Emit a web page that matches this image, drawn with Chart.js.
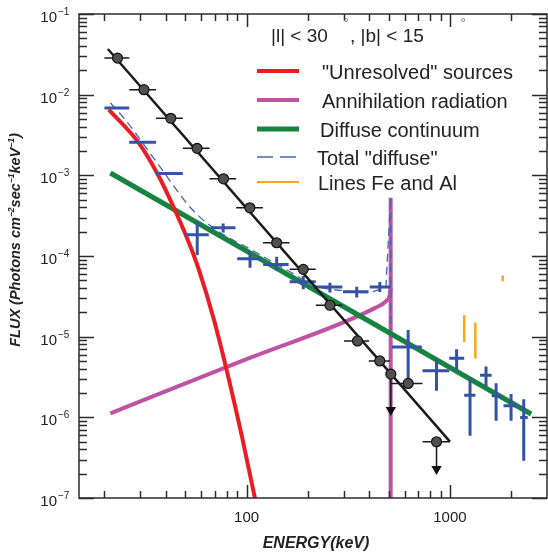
<!DOCTYPE html>
<html>
<head>
<meta charset="utf-8">
<script src="https://cdn.jsdelivr.net/npm/chart.js@4.4.1/dist/chart.umd.min.js"></script>
<style>
  html, body { margin: 0; padding: 0; background: #fff; }
</style>
</head>
<body>
<canvas id="myChart" width="548" height="554"></canvas>
<script>
  // ---- data (keV, photons cm-2 s-1 keV-1) ----

  // black points (total flux) with energy bins
  const blackE   = [23.2, 31.3, 42.4, 57.1, 77.0, 103.8, 140.5, 190, 257, 351, 452, 623];
  const blackF   = [0.0284, 0.01153, 0.00509, 0.00216, 9.05e-4, 3.96e-4, 1.46e-4, 6.83e-5, 2.45e-5, 8.85e-6, 5.0e-6, 2.63e-6];
  const blackElo = [20.0, 26.5, 35.9, 48.6, 65.7, 88.9, 120.3, 162.8, 218.8, 301.6, 399, 512];
  const blackEhi = [26.5, 35.9, 48.6, 65.7, 88.9, 120.3, 162.8, 218.8, 295.7, 400.4, 506, 733];

  // black upper limits (point, arrow tip)
  const limitE    = [512, 859];
  const limitF    = [3.43e-6, 4.98e-7];
  const limitElo  = [512, 733];
  const limitEhi  = [512, 1000];
  const limitTip  = [1.23e-6, 2.29e-7];

  // power law fit through black points
  const fitE = [20.8, 1000];
  const fitF = [0.0368, 5.0e-7];

  // blue crosses ("diffuse")
  const blueE   = [23, 30.8, 41.4, 57.2, 76.7, 104, 140.6, 190, 257, 348, 452, 623, 859, 1078, 1255, 1504, 1686, 1997, 2305];
  const blueF   = [6.85e-3, 2.57e-3, 1.05e-3, 1.84e-4, 2.24e-4, 9.27e-5, 7.87e-5, 4.81e-5, 4.12e-5, 3.61e-5, 4.12e-5, 7.46e-6, 3.77e-6, 5.41e-6, 1.88e-6, 3.33e-6, 1.85e-6, 1.39e-6, 9.98e-7];
  const blueFlo = [null, null, null, 1.02e-4, 1.96e-4, 7.16e-5, 6.68e-5, 3.86e-5, 3.52e-5, 3.05e-5, 3.57e-5, 3.03e-6, 2.13e-6, 3.76e-6, 5.9e-7, 2.41e-6, 9.06e-7, 9.06e-7, 2.9e-7];
  const blueFhi = [null, null, null, 2.66e-4, 2.53e-4, 1.15e-4, 9.8e-5, 5.64e-5, 4.67e-5, 4.17e-5, 4.75e-5, 1.21e-5, 5.25e-6, 6.98e-6, 3.12e-6, 4.27e-6, 2.65e-6, 1.94e-6, 1.68e-6];
  const blueElo = [20.0, 26.5, 35.9, 49.6, 66.5, 89.9, 120.7, 162.8, 218.8, 298, 403, 518, 733, 992, 1175, 1406, 1603, 1833, 2213];
  const blueEhi = [26.5, 35.9, 48.6, 65.2, 88.2, 119, 160.9, 218.8, 295.7, 398, 512, 728, 993, 1175, 1334, 1603, 1783, 2178, 2411];

  // model curves
  const unresE = [21.0, 29.5, 37.0, 44.7, 52.0, 58.2, 69.0, 81.8, 94.8, 109.9, 117.6];
  const unresF = [6.52e-3, 2.53e-3, 9.75e-4, 3.59e-4, 1.47e-4, 6.83e-5, 1.64e-5, 2.97e-6, 5.85e-7, 1.0e-7, 4.33e-8];

  const annE = [21.4, 100, 432, 484, 505, 511];
  const annF = [1.12e-6, 5.27e-6, 2.29e-5, 2.74e-5, 3.25e-5, 4.09e-5];
  const annLineE = [511, 511];
  const annLineF = [5.27e-4, 1e-8];

  const diffE = [21.4, 2506];
  const diffF = [1.07e-3, 1.1e-6];

  // total: smooth part, then the 511 keV spike
  const totalE = [21.4, 25.3, 36.3, 54, 70.4, 104.6, 156, 219, 307, 385, 484, 511, 511];
  const totalF = [7.89e-3, 4.9e-3, 1.43e-3, 3.77e-4, 2.13e-4, 1.21e-4, 6.83e-5, 4.25e-5, 3.68e-5, 3.51e-5, 4.05e-5, 5.27e-4, 1.2e-5];
  const totalSmooth = 11;

  // Fe and Al lines
  const lineE   = [1175, 1333, 1816];
  const lineFlo = [8.6e-6, 5.36e-6, 4.85e-5];
  const lineFhi = [1.84e-5, 1.49e-5, 5.75e-5];

  const xTickLabels = [100, 1000];
  const yDecades = [-7, -6, -5, -4, -3, -2, -1];

  const legendLabels = ['"Unresolved" sources', 'Annihilation radiation', 'Diffuse continuum', 'Total "diffuse"', 'Lines Fe and Al'];

  // ---- helpers ----
  function pts(xs, ys) {
    return xs.map((x, i) => ({ x: x, y: ys[i] }));
  }

  // list of segments [x1,y1,x2,y2] -> data with gaps between them
  function segs(list) {
    const out = [];
    list.forEach(s => {
      out.push({ x: s[0], y: s[1] }, { x: s[2], y: s[3] }, { x: s[2], y: null });
    });
    return out;
  }

  const blackBars = segs(blackE.map((e, i) => [blackElo[i], blackF[i], blackEhi[i], blackF[i]])
    .concat(limitE.map((e, i) => [limitElo[i], limitF[i], limitEhi[i], limitF[i]])));
  const limitLines = segs(limitE.map((e, i) => [e, limitF[i], e, limitTip[i]]));

  const blueSegs = [];
  blueE.forEach((e, i) => {
    blueSegs.push([blueElo[i], blueF[i], blueEhi[i], blueF[i]]);
    if (blueFlo[i] !== null) blueSegs.push([e, blueFlo[i], e, blueFhi[i]]);
  });
  const lineSegs = lineE.map((e, i) => [e, lineFlo[i], e, lineFhi[i]]);

  const totalPts = pts(totalE, totalF);

  const RED = '#ec1c24', MAG = '#c052a3', GREEN = '#168440', BLUE = '#3553a4', DASH = '#4a63b2', ORANGE = '#f8a61c';
  const FONT = "'Liberation Sans', Arial, sans-serif";

  const line = (extra) => Object.assign({ showLine: true, pointRadius: 0, fill: false }, extra);

  // ---- axes, labels and legend drawn over the plot ----
  const frame = {
    id: 'frame',
    afterDatasetsDraw(chart) {
      const c = chart.ctx, a = chart.chartArea;
      const xs = chart.scales.x, ys = chart.scales.y;
      c.save();
      c.strokeStyle = '#2b2b2b';
      c.lineWidth = 1.5;
      c.beginPath();
      // ticks pointing inwards
      for (let d = 1; d <= 3; d++) {
        for (let m = 1; m <= 9; m++) {
          const v = m * Math.pow(10, d);
          if (v <= xs.min || v >= xs.max) continue;
          const p = Math.round(xs.getPixelForValue(v)) + 0.5;
          const len = m === 1 ? 13 : 7;
          c.moveTo(p, a.bottom); c.lineTo(p, a.bottom - len);
          c.moveTo(p, a.top); c.lineTo(p, a.top + len);
        }
      }
      for (let d = -7; d <= -1; d++) {
        for (let m = 1; m <= 9; m++) {
          const v = m * Math.pow(10, d);
          if (v < ys.min || v > ys.max) continue;
          const p = Math.round(ys.getPixelForValue(v)) + 0.5;
          const len = m === 1 ? 15 : 8;
          c.moveTo(a.left, p); c.lineTo(a.left + len, p);
          c.moveTo(a.right, p); c.lineTo(a.right - len, p);
        }
      }
      c.stroke();
      c.strokeRect(a.left, a.top, a.right - a.left, a.bottom - a.top);

      // tick labels
      c.fillStyle = '#222';
      c.font = '15px ' + FONT;
      c.textAlign = 'center';
      c.textBaseline = 'alphabetic';
      xTickLabels.forEach(v => c.fillText(String(v), xs.getPixelForValue(v), a.bottom + 24));
      yDecades.forEach(d => {
        const p = ys.getPixelForValue(Math.pow(10, d));
        c.font = '15px ' + FONT;
        c.textAlign = 'right';
        c.fillText('10', 57, p + 8);
        c.font = '10px ' + FONT;
        c.textAlign = 'left';
        c.fillText('\u2212' + Math.abs(d), 58, p + 1);
      });

      // axis titles
      c.font = 'italic bold 16px ' + FONT;
      c.textAlign = 'center';
      c.fillText('ENERGY(keV)', 316, 548);

      const parts = [['FLUX (Photons cm', 0], ['\u22122', 1], ['sec', 0], ['\u22121', 1], ['keV', 0], ['\u22121', 1], [')', 0]];
      const big = 'italic bold 14.5px ' + FONT, small = 'italic bold 8.5px ' + FONT;
      let total = 0;
      parts.forEach(p => { c.font = p[1] ? small : big; total += c.measureText(p[0]).width; });
      c.save();
      c.translate(20, 240);
      c.rotate(-Math.PI / 2);
      c.textAlign = 'left';
      let x = -total / 2;
      parts.forEach(p => {
        c.font = p[1] ? small : big;
        c.fillText(p[0], x, p[1] ? -6 : 0);
        x += c.measureText(p[0]).width;
      });
      c.restore();

      // sky region
      c.font = '19px ' + FONT;
      c.textAlign = 'left';
      c.fillText('|l| < 30', 271, 42);
      c.fillText(', |b| < 15', 350, 42);
      c.font = '13px ' + FONT;
      c.textAlign = 'center';
      c.fillStyle = '#666';
      c.fillText('\u00b0', 346, 27);
      c.fillText('\u00b0', 463, 27);

      // legend
      const items = [
        { color: RED, w: 4, y: 71, tx: 322 },
        { color: MAG, w: 4, y: 100, tx: 322 },
        { color: GREEN, w: 5, y: 129, tx: 320 },
        { color: DASH, w: 1.5, y: 157, tx: 317, dash: [16, 7] },
        { color: ORANGE, w: 2, y: 182, tx: 318 }
      ];
      c.font = '20px ' + FONT;
      c.textAlign = 'left';
      c.fillStyle = '#222';
      items.forEach((it, i) => {
        c.strokeStyle = it.color;
        c.lineWidth = it.w;
        c.setLineDash(it.dash || []);
        c.beginPath();
        c.moveTo(257, it.y); c.lineTo(299, it.y);
        c.stroke();
        c.fillText(legendLabels[i], it.tx, it.y + 7.5);
      });
      c.restore();
    }
  };

  const ctx = document.getElementById('myChart');

  new Chart(ctx, {
    type: 'scatter',
    data: {
      datasets: [
        { data: pts(blackE, blackF).concat(pts(limitE, limitF)), pointRadius: 5, pointBackgroundColor: '#505050', pointBorderColor: '#111', pointBorderWidth: 1.2, order: 0 },
        { data: pts(limitE, limitTip), pointStyle: 'triangle', rotation: 180, pointRadius: 6, pointBackgroundColor: '#111', pointBorderColor: '#111', pointBorderWidth: 0, order: 0 },
        line({ data: blackBars, borderColor: '#1a1a1a', borderWidth: 1.5, order: 1 }),
        line({ data: limitLines, borderColor: '#1a1a1a', borderWidth: 1.5, order: 1 }),
        line({ data: pts(fitE, fitF), borderColor: '#1a1a1a', borderWidth: 2.5, order: 2 }),
        line({ data: segs(blueSegs), borderColor: BLUE, borderWidth: 3, order: 3 }),
        line({ data: segs(lineSegs), borderColor: ORANGE, borderWidth: 2.5, order: 3 }),
        line({ data: totalPts.slice(0, totalSmooth), borderColor: DASH, borderWidth: 1.3, borderDash: [8, 5], cubicInterpolationMode: 'monotone', order: 4 }),
        line({ data: totalPts.slice(totalSmooth - 1), borderColor: DASH, borderWidth: 1.3, borderDash: [8, 5], order: 4 }),
        line({ data: pts(unresE, unresF), borderColor: RED, borderWidth: 4, cubicInterpolationMode: 'monotone', clip: 0, order: 5 }),
        line({ data: pts(diffE, diffF), borderColor: GREEN, borderWidth: 5, order: 6 }),
        line({ data: pts(annE, annF), borderColor: MAG, borderWidth: 4, cubicInterpolationMode: 'monotone', order: 7 }),
        line({ data: pts(annLineE, annLineF), borderColor: MAG, borderWidth: 4, clip: 0, order: 7 })
      ]
    },
    options: {
      responsive: false,
      devicePixelRatio: 1,
      animation: false,
      events: [],
      layout: { autoPadding: false, padding: { left: 79, right: 1, top: 14, bottom: 56 } },
      plugins: { legend: { display: false }, tooltip: { enabled: false } },
      scales: {
        x: { type: 'logarithmic', min: 15, max: 3000, display: false },
        y: { type: 'logarithmic', min: 1e-7, max: 0.1, display: false }
      }
    },
    plugins: [frame]
  });
</script>
</body>
</html>
